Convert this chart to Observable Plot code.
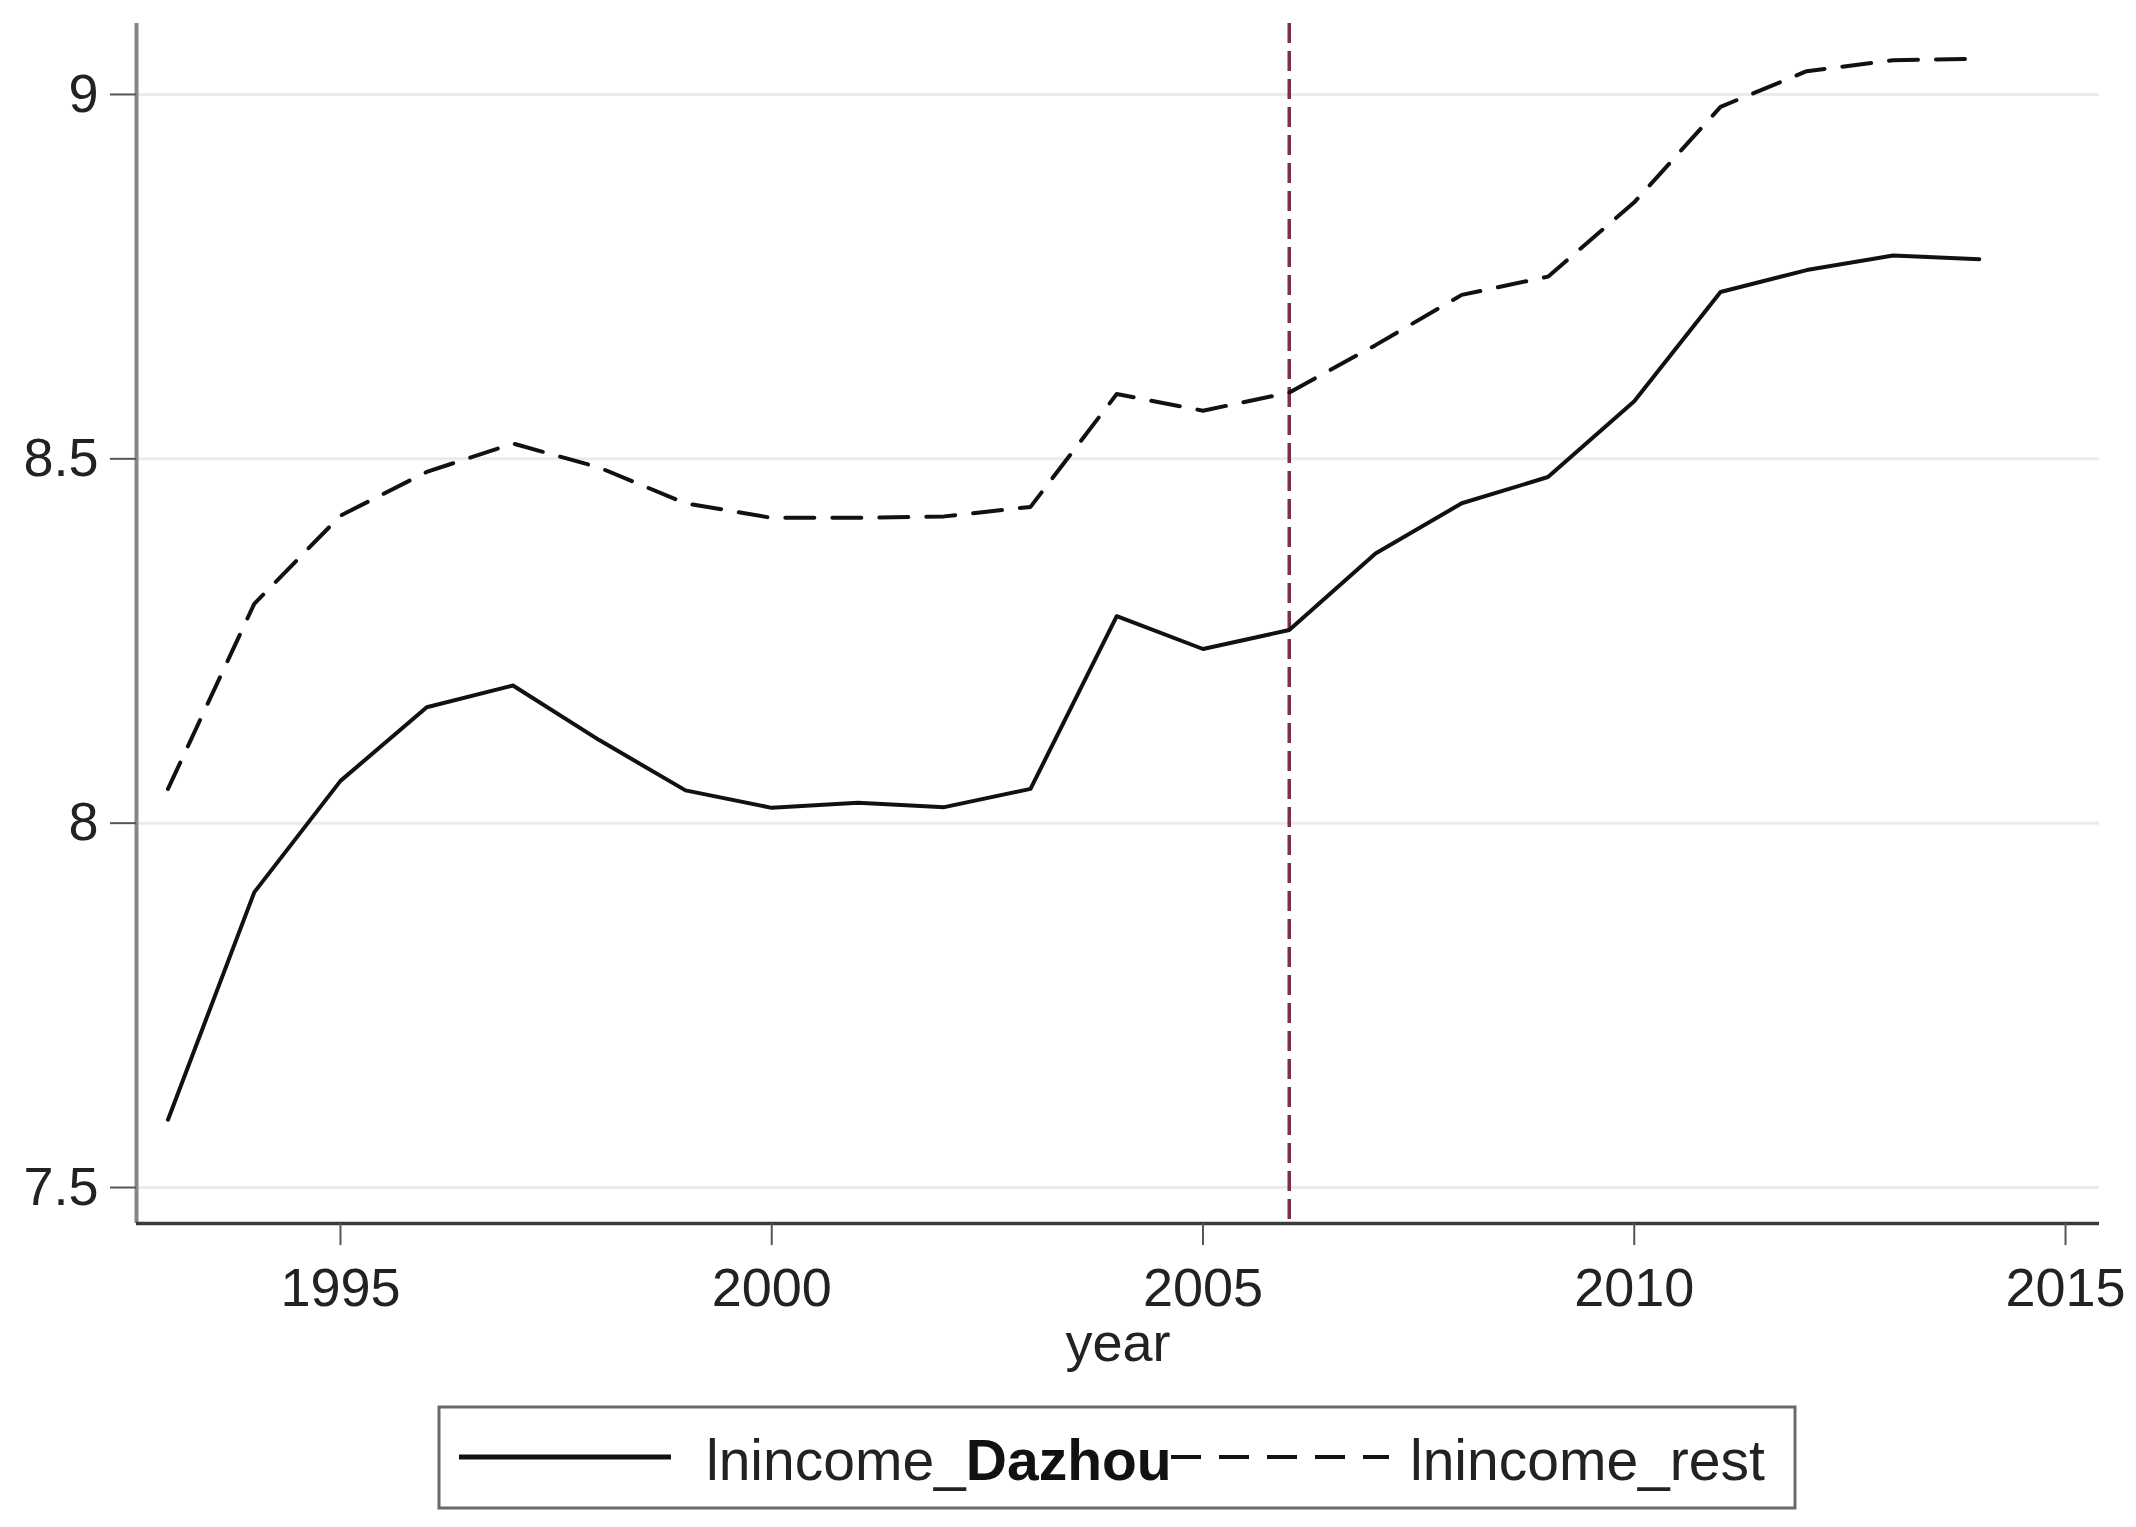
<!DOCTYPE html>
<html>
<head>
<meta charset="utf-8">
<script src="https://cdn.jsdelivr.net/npm/d3@7"></script>
<script src="https://cdn.jsdelivr.net/npm/@observablehq/plot@0.6"></script>
<style>
  html, body { margin: 0; padding: 0; background: #ffffff; }
  #wrap { position: relative; width: 2136px; height: 1527px; background: #fff; }
  #legend { position: absolute; left: 0; top: 1390px; }
  text { font-family: "Liberation Sans", Arial, sans-serif; }
</style>
</head>
<body>
<div id="wrap">
  <div id="chart"></div>
  <svg id="legend" width="2136" height="137" xmlns="http://www.w3.org/2000/svg">
    <rect x="439" y="17" width="1356" height="101" fill="#fff" stroke="#6a6a6a" stroke-width="3"></rect>
    <line x1="459" x2="671" y1="67" y2="67" stroke="#111" stroke-width="5"></line>
    <text x="706" y="90" font-size="57" fill="#222">lnincome_<tspan font-weight="bold" fill="#111">Dazhou</tspan></text>
    <line x1="1171" x2="1389" y1="67" y2="67" stroke="#111" stroke-width="4" stroke-dasharray="30,18"></line>
    <text x="1410" y="90" font-size="57" fill="#222">lnincome_rest</text>
  </svg>
</div>
<script>
// ---- data ----
const years = [1993, 1994, 1995, 1996, 1997, 1998, 1999, 2000, 2001, 2002, 2003,
               2004, 2005, 2006, 2007, 2008, 2009, 2010, 2011, 2012, 2013, 2014];
const lnincomeDazhou = [7.593, 7.905, 8.058, 8.159, 8.189, 8.114, 8.045, 8.021, 8.028, 8.022, 8.047,
                        8.284, 8.239, 8.265, 8.370, 8.439, 8.475, 8.579, 8.729, 8.759, 8.779, 8.774];
const lnincomeRest   = [8.047, 8.301, 8.422, 8.482, 8.521, 8.488, 8.439, 8.419, 8.419, 8.421, 8.434,
                        8.589, 8.566, 8.591, 8.656, 8.725, 8.750, 8.852, 8.983, 9.032, 9.047, 9.049];
const policyYear = [2006];
const xTicks = [1995, 2000, 2005, 2010, 2015];
const yTicks = [7.5, 8, 8.5, 9];
const xDomain = [1992.635, 2015.394];
const yDomain = [7.4506, 9.0974];

const dazhouData = years.map((year, i) => ({year, value: lnincomeDazhou[i]}));
const restData = years.map((year, i) => ({year, value: lnincomeRest[i]}));

const chart = Plot.plot({
  width: 2136,
  height: 1390,
  marginLeft: 136,
  marginRight: 37,
  marginTop: 23,
  marginBottom: 167,
  style: {
    fontFamily: '"Liberation Sans", Arial, sans-serif',
    fontSize: "54px",
    color: "#222",
    background: "#ffffff",
    overflow: "visible"
  },
  x: { domain: xDomain },
  y: { domain: yDomain },
  marks: [
    Plot.gridY(yTicks, { stroke: "#ebebeb", strokeWidth: 3, strokeOpacity: 1 }),
    Plot.ruleX([xDomain[0]], { stroke: "#858585", strokeWidth: 4 }),
    Plot.ruleY([yDomain[0]], { stroke: "#3a3a3a", strokeWidth: 3.5 }),
    Plot.axisY({
      ticks: yTicks, tickSize: 26, tickPadding: 12, stroke: "#555", strokeWidth: 2,
      tickFormat: d => String(d), label: null
    }),
    Plot.axisX({
      ticks: xTicks, tickSize: 22, tickPadding: 22, stroke: "#555", strokeWidth: 2,
      tickFormat: d => String(d), label: "year", labelArrow: "none",
      labelAnchor: "center", labelOffset: 137
    }),
    Plot.ruleX(policyYear, { stroke: "#7d2f48", strokeWidth: 3.5, strokeDasharray: "20,8" }),
    Plot.line(dazhouData, { x: "year", y: "value", stroke: "#111", strokeWidth: 4 }),
    Plot.line(restData, { x: "year", y: "value", stroke: "#111", strokeWidth: 4, strokeDasharray: "29,18" })
  ]
});
document.getElementById("chart").appendChild(chart);
</script>
</body>
</html>
